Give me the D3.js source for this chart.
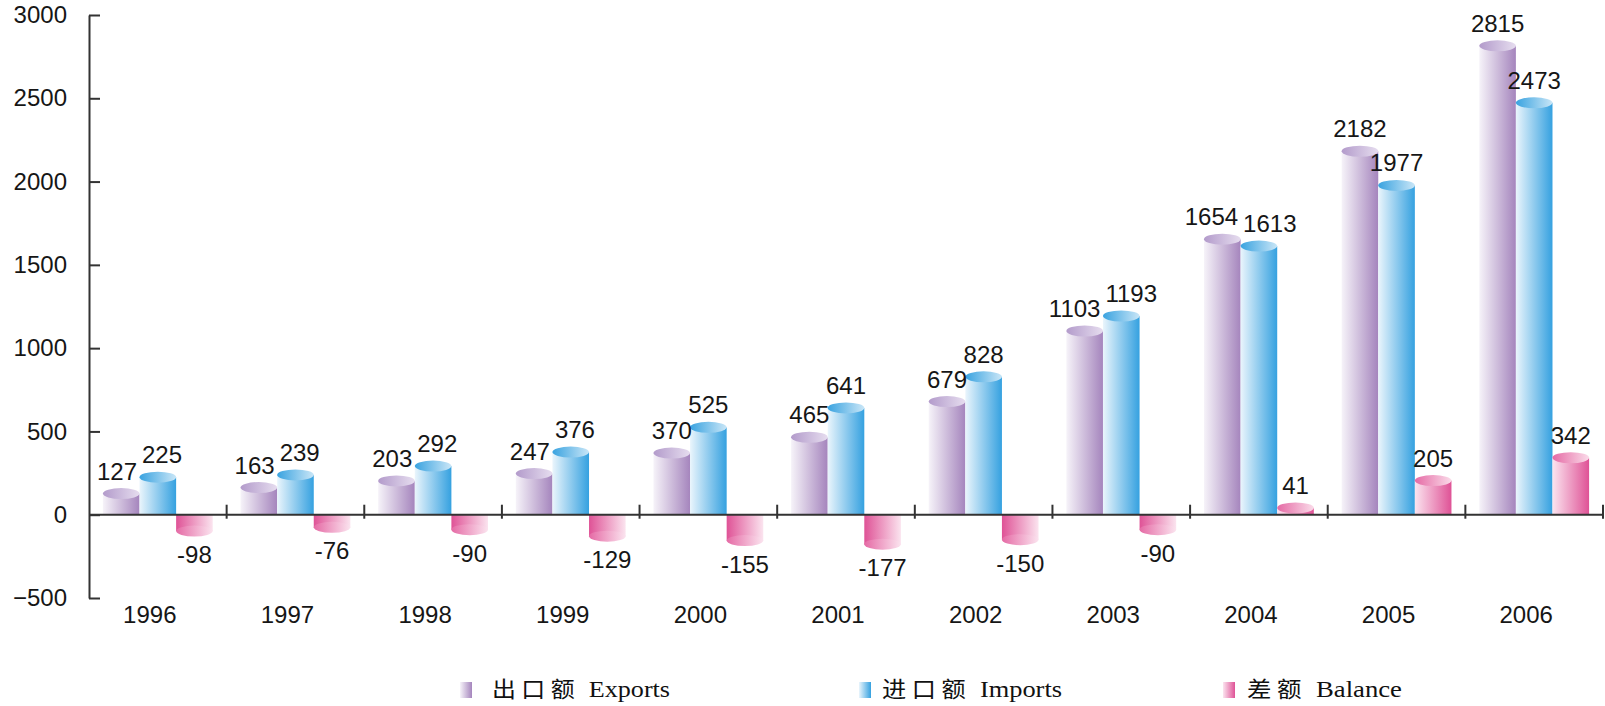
<!DOCTYPE html>
<html>
<head>
<meta charset="utf-8">
<script src="https://cdn.jsdelivr.net/npm/d3@7"></script>
<style>
html,body{margin:0;padding:0;background:#fff;}
svg{display:block;}
</style>
</head>
<body>
<svg id="chart" width="1605" height="706"></svg>
<script>
// ---- data ----
const years = ['1996','1997','1998','1999','2000','2001','2002','2003','2004','2005','2006'];
const exportsVals = [127,163,203,247,370,465,679,1103,1654,2182,2815];
const importsVals = [225,239,292,376,525,641,828,1193,1613,1977,2473];
const balanceVals = [-98,-76,-90,-129,-155,-177,-150,-90,41,205,342];
const yTicks = [-500,0,500,1000,1500,2000,2500,3000];
const seriesNames = ['exports','imports','balance'];
const legendLabels = [['出口额','Exports'],['进口额','Imports'],['差额','Balance']];

// ---- styles ----
const colors = {
  exports: {light:'#f6f3f9', dark:'#a585bd', capDark:'#b39bcb', capLight:'#e6ddef'},
  imports: {light:'#eaf5fc', dark:'#35a1e0', capDark:'#3aa3e0', capLight:'#c9e6f7'},
  balance: {light:'#fbe4ef', dark:'#df5296', capDark:'#e56aa5', capLight:'#fadbe9'}
};

const svg = d3.select('#chart');
const defs = svg.append('defs');
function grad(id, c1, c2){
  const g = defs.append('linearGradient').attr('id', id)
    .attr('x1','0').attr('y1','0').attr('x2','1').attr('y2','0');
  g.append('stop').attr('offset','0%').attr('stop-color', c1);
  g.append('stop').attr('offset','100%').attr('stop-color', c2);
}
seriesNames.forEach(s => {
  const c = colors[s];
  grad('body-'+s, c.light, c.dark);
  grad('cap-'+s, c.capDark, c.capLight);
  grad('negbody-'+s, c.dark, c.light);
  grad('negcap-'+s, c.capDark, c.light);
});

// ---- scales ----
const y = d3.scaleLinear().domain([-500,3000]).range([598,15]);
const x = d3.scaleBand().domain(years).range([89,1603]).paddingInner(0).paddingOuter(0);
const x1 = d3.scaleBand().domain(seriesNames).range([0, x.bandwidth()]).paddingInner(0).paddingOuter(0.38);

const rows = years.map((yr,i) => ({year:yr, exports:exportsVals[i], imports:importsVals[i], balance:balanceVals[i]}));

const font = "'Liberation Sans', Arial, sans-serif";
const textColor = '#161616';

// ---- bars (cylinders) ----
const groups = svg.append('g').selectAll('g').data(rows).join('g')
  .attr('transform', d => `translate(${x(d.year)},0)`);

const ry = 5.5;
seriesNames.forEach(s => {
  const w = x1.bandwidth();
  groups.each(function(d){
    const g = d3.select(this);
    const v = d[s];
    const bx = x1(s);
    const y0 = y(0), yv = y(v);
    if (v >= 0){
      g.append('rect').attr('x', bx).attr('width', w)
        .attr('y', yv).attr('height', y0 - yv)
        .attr('fill', `url(#body-${s})`);
      g.append('ellipse').attr('cx', bx + w/2).attr('cy', yv)
        .attr('rx', w/2).attr('ry', ry).attr('fill', `url(#cap-${s})`);
    } else {
      g.append('rect').attr('x', bx).attr('width', w)
        .attr('y', y0).attr('height', yv - y0)
        .attr('fill', `url(#negbody-${s})`);
      g.append('ellipse').attr('cx', bx + w/2).attr('cy', yv)
        .attr('rx', w/2).attr('ry', ry).attr('fill', `url(#negcap-${s})`);
    }
  });
});

// ---- value labels (with simple collision avoidance) ----
groups.each(function(d){
  const g = d3.select(this);
  const labels = seriesNames.map(s => {
    const t = g.append('text')
      .attr('x', x1(s) + x1.bandwidth()/2)
      .attr('y', d[s] >= 0 ? y(d[s]) - 14 : y(d[s]) + 32)
      .attr('text-anchor','middle')
      .attr('font-family', font).attr('font-size', 24)
      .attr('fill', textColor)
      .text(d[s]);
    return {t, cx: x1(s) + x1.bandwidth()/2, cy: d[s] >= 0 ? y(d[s]) - 14 : y(d[s]) + 32,
            w: t.node().getComputedTextLength()};
  });
  for (let i = 0; i < labels.length - 1; i++){
    const a = labels[i], b = labels[i+1];
    if (Math.abs(a.cy - b.cy) < 24){
      const need = (a.w + b.w)/2 + 5;
      const have = b.cx - a.cx;
      if (have < need){
        const push = (need - have)/2;
        a.cx -= push; b.cx += push;
        a.t.attr('x', a.cx); b.t.attr('x', b.cx);
      }
    }
  }
});

// ---- y axis ----
const yAxis = d3.axisLeft(y).tickValues(yTicks).tickSizeInner(-11).tickSizeOuter(0).tickPadding(22)
  .tickFormat(d3.format('d'));
const yg = svg.append('g').attr('transform','translate(89,0)').call(yAxis);
yg.select('.domain').attr('stroke','#333').attr('stroke-width',2);
yg.selectAll('.tick line').attr('stroke','#333').attr('stroke-width',2);
yg.selectAll('.tick text').attr('font-family', font).attr('font-size', 24).attr('fill', textColor);

// ---- x axis ----
const xg = svg.append('g');
xg.append('line').attr('x1', 89).attr('x2', 1603).attr('y1', y(0)).attr('y2', y(0))
  .attr('stroke','#333').attr('stroke-width',2);
xg.selectAll('line.tk').data(years).join('line').attr('class','tk')
  .attr('x1', d => x(d) + x.bandwidth()).attr('x2', d => x(d) + x.bandwidth())
  .attr('y1', y(0) - 10).attr('y2', y(0) + 4)
  .attr('stroke','#333').attr('stroke-width',2);
xg.selectAll('text').data(years).join('text')
  .attr('x', d => x(d) + x.bandwidth()/2 - 8)
  .attr('y', 623)
  .attr('text-anchor','middle')
  .attr('font-family', font).attr('font-size', 24).attr('fill', textColor)
  .text(d => d);

// ---- legend ----
const legendPos = [{mx:460, tx:492, tw:178},{mx:859, tx:882, tw:180},{mx:1223, tx:1247, tw:155}];
const lg = svg.append('g');
seriesNames.forEach((s,i) => {
  const p = legendPos[i];
  lg.append('rect').attr('x', p.mx).attr('y', 682).attr('width', 12).attr('height', 16)
    .attr('fill', `url(#body-${s})`);
  const t = lg.append('text').attr('x', p.tx).attr('y', 697)
    .attr('font-family', "'Liberation Serif', 'Noto Sans CJK SC', serif")
    .attr('font-size', 24).attr('fill', '#111')
    .attr('textLength', p.tw).attr('lengthAdjust','spacingAndGlyphs');
  t.append('tspan').attr('font-family', "'Noto Sans CJK SC', serif").attr('font-size', 22)
    .attr('letter-spacing', 5).text(legendLabels[i][0]);
  t.append('tspan').attr('dx', 2).text(' ' + legendLabels[i][1]);
});
</script>
</body>
</html>
